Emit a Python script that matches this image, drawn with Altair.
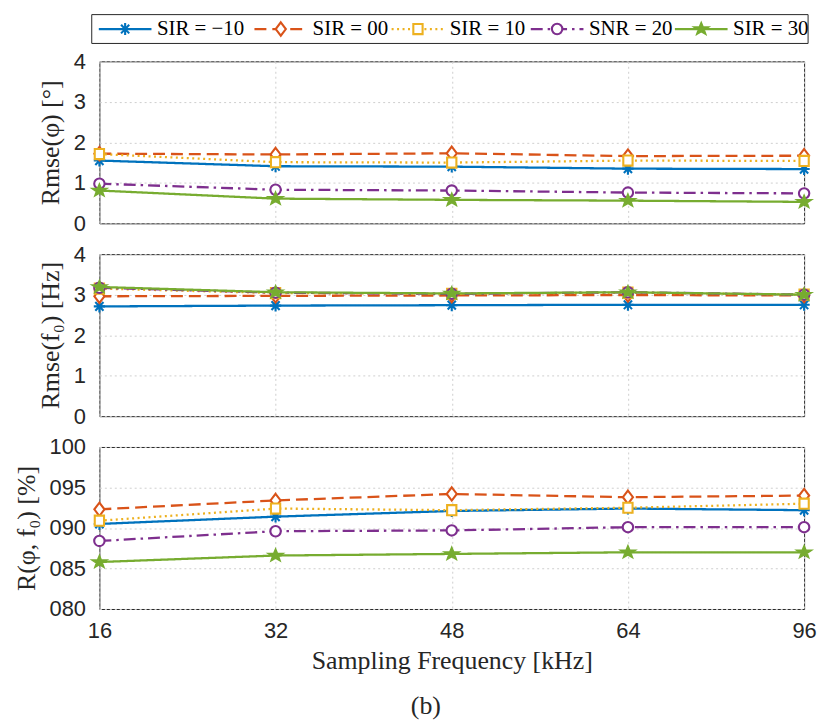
import math
import altair as alt
import pandas as pd

# ---------------- data ----------------
FREQS = [16, 32, 48, 64, 96]
SERIES = ["SIR = −10", "SIR = 00", "SIR = 10", "SNR = 20", "SIR = 30"]

# Rmse(phi) [deg]
PHI_SIR_M10 = [1.55, 1.41, 1.40, 1.35, 1.34]
PHI_SIR_00 = [1.72, 1.70, 1.73, 1.66, 1.67]
PHI_SIR_10 = [1.71, 1.51, 1.50, 1.55, 1.54]
PHI_SNR_20 = [0.98, 0.83, 0.81, 0.76, 0.74]
PHI_SIR_30 = [0.81, 0.61, 0.58, 0.56, 0.53]

# Rmse(f0) [Hz]
F0_SIR_M10 = [2.71, 2.73, 2.74, 2.75, 2.75]
F0_SIR_00 = [2.96, 2.97, 2.98, 2.99, 2.98]
F0_SIR_10 = [3.15, 3.04, 3.02, 3.05, 3.00]
F0_SNR_20 = [3.17, 3.05, 3.02, 3.06, 3.00]
F0_SIR_30 = [3.19, 3.06, 3.03, 3.06, 3.00]

# R(phi, f0) [%]
R_SIR_M10 = [90.5, 91.4, 92.1, 92.4, 92.2]
R_SIR_00 = [92.3, 93.4, 94.2, 93.8, 94.0]
R_SIR_10 = [90.9, 92.4, 92.2, 92.5, 93.0]
R_SNR_20 = [88.4, 89.6, 89.7, 90.1, 90.1]
R_SIR_30 = [85.8, 86.6, 86.8, 87.0, 87.0]

# ---------------- styles ----------------
COLORS = ["#0072BD", "#D95319", "#EDB120", "#7E2F8E", "#77AC30"]
FILLS = ["transparent", "white", "white", "white", "#77AC30"]
DASHES = [[1, 0], [12, 6], [2, 3.5], [12, 5, 2.5, 5], [1, 0]]


def star_path(R=0.98, r=0.40):
    pts = []
    for k in range(10):
        ang = -math.pi / 2 + k * math.pi / 5
        rad = R if k % 2 == 0 else r
        pts.append(f"{rad * math.cos(ang):.3f},{rad * math.sin(ang) * 0.85:.3f}")
    return "M" + "L".join(pts) + "Z"


SHAPES = [
    "M-0.8,0L0.8,0M0,-0.85L0,0.85M-0.58,-0.62L0.58,0.62M-0.58,0.62L0.58,-0.62",
    "M0,-0.95L0.72,0L0,0.95L-0.72,0Z",
    "M-0.66,-0.72L0.66,-0.72L0.66,0.72L-0.66,0.72Z",
    "M-0.74,0A0.74,0.74,0,1,0,0.74,0A0.74,0.74,0,1,0,-0.74,0Z",
    star_path(),
]

W, H = 709, 163
SERIF = "Liberation Serif"
SANS = "Liberation Sans"
INK = "#262626"
MSIZE = 200
MSTROKE = 2.1

stroke_scale = alt.Scale(domain=SERIES, range=COLORS)
fill_scale = alt.Scale(domain=SERIES, range=FILLS)
dash_scale = alt.Scale(domain=SERIES, range=DASHES)
shape_scale = alt.Scale(domain=SERIES, range=SHAPES)


def long_df(lists):
    rows = []
    for s, vals in zip(SERIES, lists):
        for f, v in zip(FREQS, vals):
            rows.append({"freq": f, "series": s, "value": v})
    return pd.DataFrame(rows)


def panel(df, ytitle, ydomain, yvalues, show_x, label_expr=None):
    yaxis_kw = dict(values=yvalues, title=ytitle)
    if label_expr:
        yaxis_kw["labelExpr"] = label_expr
    if show_x:
        xaxis = alt.Axis(title="Sampling Frequency [kHz]", labelAngle=0,
                         labelPadding=12, titlePadding=6)
    else:
        xaxis = alt.Axis(title=None, labels=False)
    x = alt.X("freq:O", scale=alt.Scale(type="point", padding=0, domain=FREQS), axis=xaxis)
    y = alt.Y("value:Q", scale=alt.Scale(domain=ydomain, nice=False, zero=False),
              axis=alt.Axis(**yaxis_kw))
    base = alt.Chart(df)
    layers = []
    for s in SERIES:
        sub = base.transform_filter(alt.datum.series == s)
        layers.append(
            sub.mark_line(strokeWidth=2.3).encode(
                x=x, y=y,
                stroke=alt.Stroke("series:N", scale=stroke_scale, legend=None),
                strokeDash=alt.StrokeDash("series:N", scale=dash_scale, legend=None),
            )
        )
        layers.append(
            sub.mark_point(size=MSIZE, strokeWidth=MSTROKE, opacity=1).encode(
                x=x, y=y,
                shape=alt.Shape("series:N", scale=shape_scale, legend=None),
                stroke=alt.Stroke("series:N", scale=stroke_scale, legend=None),
                fill=alt.Fill("series:N", scale=fill_scale, legend=None),
            )
        )
    return layers


# legend (drawn above panel 1, positions in pixels relative to plot origin)
LEG_START = [-0.6, 156, 294, 434, 579]
LEG_LEN = 53
LEG_Y = -32.5
leg_df = pd.DataFrame({
    "series": SERIES,
    "lx1": LEG_START,
    "lx2": [v + LEG_LEN for v in LEG_START],
    "mx": [v + 26.5 for v in LEG_START],
    "tx": [v + 58.5 for v in LEG_START],
})
box = alt.Chart(pd.DataFrame({"k": [0]})).mark_rect(
    fill="white", stroke=INK, strokeWidth=1
).encode(x=alt.value(-7.7), x2=alt.value(713), y=alt.value(-47), y2=alt.value(-18))
leg_base = alt.Chart(leg_df)
leg_lines = leg_base.mark_rule(strokeWidth=2.3).encode(
    x=alt.X("lx1:Q", scale=None, axis=None), x2="lx2:Q", y=alt.value(LEG_Y),
    stroke=alt.Stroke("series:N", scale=stroke_scale, legend=None),
    strokeDash=alt.StrokeDash("series:N", scale=dash_scale, legend=None),
)
leg_pts = leg_base.mark_point(size=MSIZE, strokeWidth=MSTROKE, opacity=1).encode(
    x=alt.X("mx:Q", scale=None, axis=None), y=alt.value(LEG_Y),
    shape=alt.Shape("series:N", scale=shape_scale, legend=None),
    stroke=alt.Stroke("series:N", scale=stroke_scale, legend=None),
    fill=alt.Fill("series:N", scale=fill_scale, legend=None),
)
leg_text = leg_base.mark_text(
    align="left", baseline="middle", font=SERIF, fontSize=21, color="#000000"
).encode(x=alt.X("tx:Q", scale=None, axis=None), y=alt.value(LEG_Y), text="series:N")

df1 = long_df([PHI_SIR_M10, PHI_SIR_00, PHI_SIR_10, PHI_SNR_20, PHI_SIR_30])
df2 = long_df([F0_SIR_M10, F0_SIR_00, F0_SIR_10, F0_SNR_20, F0_SIR_30])
df3 = long_df([R_SIR_M10, R_SIR_00, R_SIR_10, R_SNR_20, R_SIR_30])

p1 = alt.layer(
    *panel(df1, "Rmse(φ) [°]", [0, 4], [0, 1, 2, 3, 4], False),
    box, leg_lines, leg_pts, leg_text,
).properties(width=W, height=H)

p2 = alt.layer(
    *panel(df2, "Rmse(f₀) [Hz]", [0, 4], [0, 1, 2, 3, 4], False)
).properties(width=W, height=H)

p3 = alt.layer(
    *panel(df3, "R(φ, f₀) [%]", [80, 100], [80, 85, 90, 95, 100], True,
           label_expr="datum.value == 100 ? '100' : '0' + datum.value")
).properties(
    width=W, height=H,
    title=alt.TitleParams(text="(b)", orient="bottom", anchor="middle", frame="group",
                          dx=-26, offset=20, font=SERIF, fontSize=26,
                          fontWeight="normal", color=INK),
)

chart = alt.vconcat(p1, p2, p3, spacing=31, bounds="flush").properties(
    padding={"left": 12, "top": 11.5, "right": 5, "bottom": 2}
).configure_view(
    stroke=INK, strokeWidth=1
).configure_text(
    font=SERIF
).configure_axis(
    labelFont=SANS, labelFontSize=22, labelColor=INK,
    titleFont=SERIF, titleFontSize=26, titleFontWeight="normal", titleColor=INK,
    grid=True, gridColor="#cfcfcf", gridDash=[2, 3], gridWidth=1,
    ticks=False, tickSize=0, domain=False, labelPadding=14, titlePadding=10,
)

chart.save("out.html", embed_options={"renderer": "svg", "actions": False})
